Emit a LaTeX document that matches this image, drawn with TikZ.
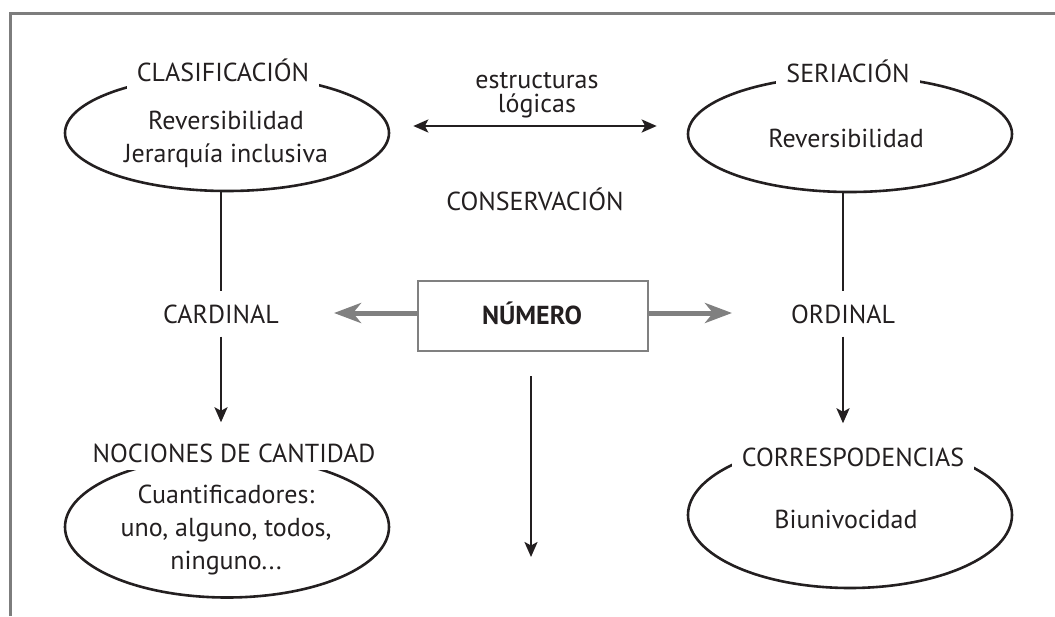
\documentclass[tikz,border=0pt]{standalone}
\usepackage{fontspec}
\setmainfont{PT Sans}
\usetikzlibrary{shapes.geometric,arrows.meta}
\definecolor{ink}{RGB}{35,31,32}
\definecolor{framegray}{RGB}{125,125,125}
\definecolor{arrgray}{RGB}{128,128,128}
\tikzset{
  oval/.style={ellipse, draw=ink, line width=2.6pt, minimum width=324pt, inner sep=0pt},
  lbl/.style={text=ink, font=\fontsize{26}{33}\selectfont, inner sep=0pt},
  olbl/.style={lbl, fill=white, inner xsep=10pt, inner ysep=8pt},
  body/.style={lbl, align=center},
  conn/.style={draw=ink, line width=2.5pt},
  arr/.style={conn, -{Stealth[length=15pt,width=13pt,inset=3.5pt]}},
  darr/.style={conn, {Stealth[length=15pt,width=13pt,inset=3.5pt]}-{Stealth[length=15pt,width=13pt,inset=3.5pt]}},
  garr/.style={draw=arrgray, line width=5pt, -{Stealth[length=27pt,width=20pt,inset=8pt]}},
}
\begin{document}
\begin{tikzpicture}[x=1pt,y=-1pt]
\useasboundingbox (0,0) rectangle (1055,616);
% frame (open on right and bottom)
\draw[framegray, line width=3pt] (10.5,616) -- (10.5,13) -- (1055,13);

% ellipses
\node[oval, minimum height=116pt] (clas) at (227,133) {};
\node[oval, minimum height=116pt] (seri) at (850,134) {};
\node[oval, minimum height=141pt] (noc) at (227,527) {};
\node[oval, minimum height=146pt] (corr) at (850,515) {};

% ellipse titles
\node[olbl, anchor=base] (clast) at (223,81) {CLASIFICACIÓN};
\node[olbl, anchor=base] (serit) at (848,82) {SERIACIÓN};
\node[olbl, anchor=base] (noct) at (234,462) {NOCIONES DE CANTIDAD};
\node[olbl, anchor=base] (corrt) at (853,466) {CORRESPODENCIAS};

% ellipse contents
\node[body] (clasb) at (226,139) {Reversibilidad\\Jerarquía inclusiva};
\node[lbl, anchor=base] (serib) at (846,147) {Reversibilidad};
\node[body] (nocb) at (226,530) {Cuantificadores:\\uno, alguno, todos,\\ninguno...};
\node[lbl, anchor=base] (corrb) at (846,528) {Biunivocidad};

% middle texts
\node[lbl, align=center, font=\fontsize{26}{24}\selectfont] (estr) at (537,95) {estructuras\\lógicas};
\node[lbl, anchor=base] (cons) at (535,210) {CONSERVACIÓN};
\node[draw=arrgray, line width=2pt, minimum width=230pt, minimum height=70pt, inner sep=0pt] (num) at (533,316) {};
\node[lbl, anchor=base, font=\fontsize{26}{33}\selectfont\bfseries] (numt) at (532,324) {NÚMERO};
\node[lbl, anchor=base] (card) at (221,323) {CARDINAL};
\node[lbl, anchor=base] (ord) at (843,323) {ORDINAL};

\coordinate (ltip) at (334,313);
\coordinate (rtip) at (732,313);
\coordinate (dtip) at (531,557);

% connectors
\draw[darr, shorten <=23pt, shorten >=30pt] ([yshift=7pt]clas.east) -- ([yshift=8pt]seri.west);
\draw[conn, shorten >=13pt] (clas.south -| card.north) -- (card.north);
\draw[arr, shorten <=13pt, shorten >=13pt] (card.south) -- (card.south |- noct.north);
\draw[conn, shorten >=13pt] (seri.south -| ord.north) -- (ord.north);
\draw[arr, shorten <=13pt, shorten >=16pt] (ord.south) -- (ord.south |- corrt.north);
\draw[garr] (num.west |- ltip) -- (ltip);
\draw[garr] (num.east |- rtip) -- (rtip);
\draw[arr, shorten <=24pt] (num.south -| dtip) -- (dtip);
\end{tikzpicture}
\end{document}
